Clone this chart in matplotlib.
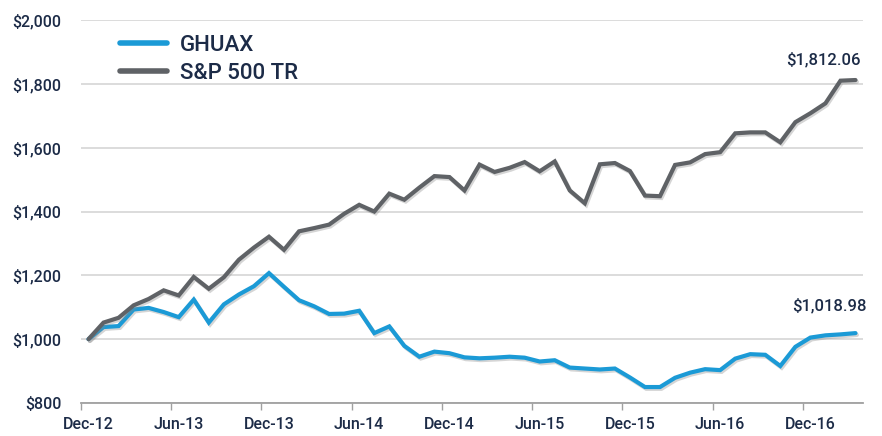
import matplotlib
matplotlib.use('Agg')
import matplotlib.pyplot as plt
import matplotlib.patheffects as pe
import numpy as np

# monthly growth of $1,000, Dec-12 .. Mar-17
months = ["Dec-12", "Jan-13", "Feb-13", "Mar-13", "Apr-13", "May-13", "Jun-13", "Jul-13",
          "Aug-13", "Sep-13", "Oct-13", "Nov-13", "Dec-13", "Jan-14", "Feb-14", "Mar-14",
          "Apr-14", "May-14", "Jun-14", "Jul-14", "Aug-14", "Sep-14", "Oct-14", "Nov-14",
          "Dec-14", "Jan-15", "Feb-15", "Mar-15", "Apr-15", "May-15", "Jun-15", "Jul-15",
          "Aug-15", "Sep-15", "Oct-15", "Nov-15", "Dec-15", "Jan-16", "Feb-16", "Mar-16",
          "Apr-16", "May-16", "Jun-16", "Jul-16", "Aug-16", "Sep-16", "Oct-16", "Nov-16",
          "Dec-16", "Jan-17", "Feb-17", "Mar-17"]

ghuax = [1000, 1038, 1041, 1093, 1098, 1085, 1069, 1124, 1052, 1109, 1140, 1166,
         1207, 1164, 1122, 1103, 1079, 1080, 1089, 1019, 1040, 979, 945, 961,
         956, 943, 940, 942, 945, 942, 930, 934, 911, 908, 905, 908,
         880, 850, 850, 879, 895, 906, 903, 939, 953, 951, 916, 976,
         1005, 1012, 1015, 1018.98]

sp500 = [1000, 1052, 1067, 1106, 1126, 1153, 1137, 1195, 1158, 1194, 1249, 1287,
         1321, 1280, 1338, 1348, 1359, 1393, 1421, 1400, 1456, 1437, 1475, 1511,
         1508, 1466, 1547, 1524, 1537, 1555, 1526, 1557, 1466, 1426, 1548, 1552,
         1527, 1450, 1448, 1546, 1554, 1580, 1586, 1645, 1648, 1648, 1617, 1680,
         1708, 1739, 1810, 1812.06]

tick_labels = ["Dec-12", "Jun-13", "Dec-13", "Jun-14", "Dec-14", "Jun-15", "Dec-15", "Jun-16", "Dec-16"]
y_ticks = [800, 1000, 1200, 1400, 1600, 1800, 2000]

BLUE = '#1b9ad6'
GRAY = '#5f6266'
NAVY = '#1c2b47'

plt.rcParams['font.family'] = ['Roboto', 'DejaVu Sans']
plt.rcParams['font.weight'] = 'medium'

fig = plt.figure(figsize=(8.82, 4.36), dpi=100)
ax = fig.add_axes([0.0918, 0.0757, 0.8867, 0.8783])

x = np.arange(len(months))
shadow = [pe.SimpleLineShadow(offset=(1.0, -1.3), shadow_color='#888888', alpha=0.35), pe.Normal()]

ax.plot(x, ghuax, color=BLUE, lw=3.0, label='GHUAX', solid_capstyle='round',
        solid_joinstyle='miter', path_effects=shadow, zorder=3)
ax.plot(x, sp500, color=GRAY, lw=3.0, label='S&P 500 TR', solid_capstyle='round',
        solid_joinstyle='miter', path_effects=shadow, zorder=3)

ax.set_xlim(-0.5, len(months) - 0.5)
ax.set_ylim(800, 2000)
ax.set_yticks(y_ticks)
ax.set_yticklabels([f"${v:,}" for v in y_ticks], fontsize=11.5, color=NAVY)
ax.tick_params(axis='y', length=0, pad=14)

# tick marks sit between categories, labels under the data points
lab_pos = [months.index(m) for m in tick_labels]
ax.set_xticks([p - 0.5 for p in lab_pos])
ax.set_xticklabels([])
ax.tick_params(axis='x', which='major', length=5, width=1, color='#a0a0a0')
ax.set_xticks(lab_pos, minor=True)
ax.set_xticklabels(tick_labels, minor=True, fontsize=11.5, color=NAVY)
ax.tick_params(axis='x', which='minor', length=0, pad=10)

ax.grid(axis='y', color='#d9d9d9', lw=1.3)
ax.set_axisbelow(True)
for s in ['left', 'right', 'top']:
    ax.spines[s].set_visible(False)
ax.spines['bottom'].set_color('#a0a0a0')
ax.spines['bottom'].set_linewidth(1.3)

ax.annotate(f"${sp500[-1]:,.2f}", xy=(x[-1], sp500[-1]), xytext=(5, 20),
            textcoords='offset pixels', ha='right', va='center', fontsize=12, color=NAVY)
ax.annotate(f"${ghuax[-1]:,.2f}", xy=(x[-1], ghuax[-1]), xytext=(11, 28),
            textcoords='offset pixels', ha='right', va='center', fontsize=12, color=NAVY)

leg = ax.legend(loc='upper left', bbox_to_anchor=(0.05, 0.962), frameon=False,
                fontsize=16, handlelength=2.1, handletextpad=0.6, labelspacing=0.33,
                borderpad=0, borderaxespad=0)
for t in leg.get_texts():
    t.set_color(NAVY)
for h in leg.get_lines():
    h.set_linewidth(4)
    h.set_path_effects([])

fig.savefig('out.png', dpi=100)
